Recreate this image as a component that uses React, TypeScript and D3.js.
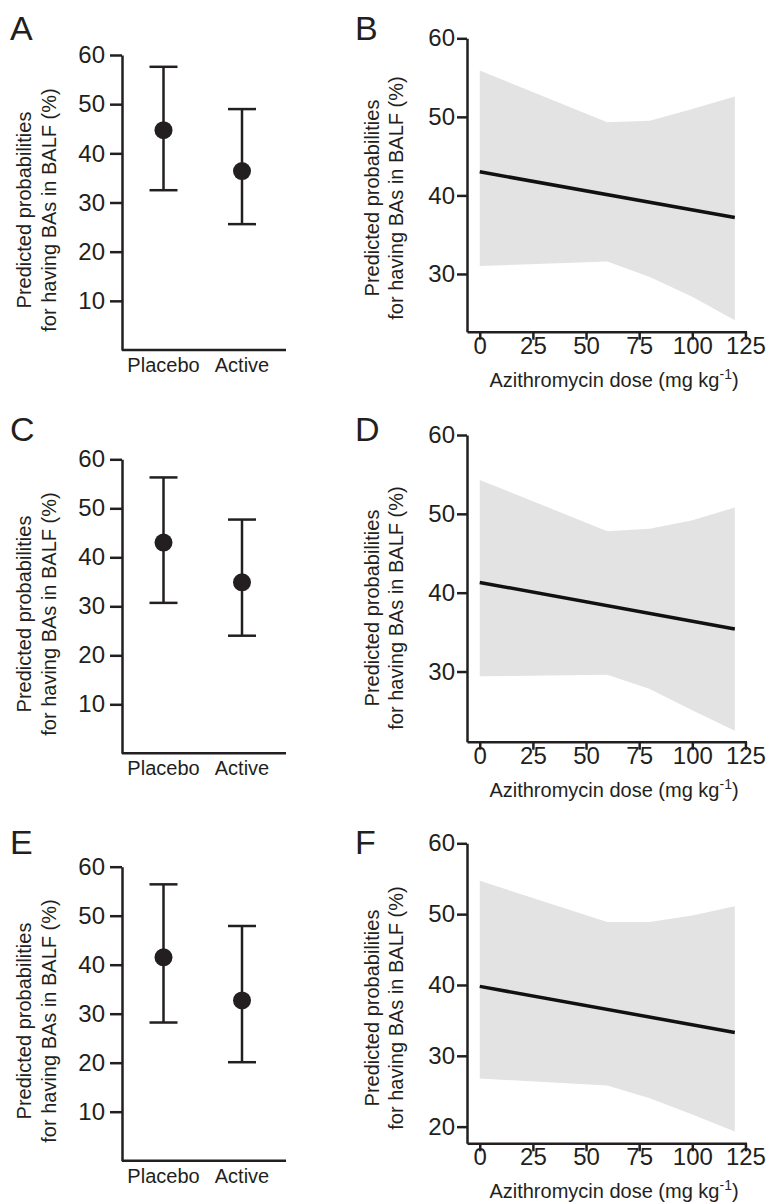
import React, { useEffect, useRef } from "react";
import * as d3 from "d3";

const groups = ["Placebo", "Active"];
const groupTicks = [10, 20, 30, 40, 50, 60];

// A, C, E: predicted probability with 95% CI, per group
const meanA = [44.7, 36.4];
const lowerA = [32.5, 25.6];
const upperA = [57.6, 49.0];

const meanC = [43.0, 34.9];
const lowerC = [30.7, 24.0];
const upperC = [56.3, 47.7];

const meanE = [41.5, 32.7];
const lowerE = [28.2, 20.1];
const upperE = [56.4, 47.9];

// B, D, F: fitted probability against azithromycin dose
const doseTicks = [0, 25, 50, 75, 100, 125];
const bandDose = [0, 60, 80, 100, 120];
const fitDose = [0, 120];

const upperB = [55.9, 49.3, 49.5, 51.0, 52.6];
const lowerB = [31.0, 31.6, 29.6, 27.1, 24.1];
const fitB = [43.0, 37.2];
const yTicksB = [30, 40, 50, 60];

const upperD = [54.3, 47.8, 48.1, 49.2, 50.8];
const lowerD = [29.4, 29.6, 27.8, 25.1, 22.5];
const fitD = [41.3, 35.4];
const yTicksD = [30, 40, 50, 60];

const upperF = [54.7, 48.9, 48.9, 49.8, 51.1];
const lowerF = [26.8, 25.8, 24.0, 21.7, 19.3];
const fitF = [39.8, 33.3];
const yTicksF = [20, 30, 40, 50, 60];

const INK = "#231f20";
const FONT = "'Liberation Sans', Arial, Helvetica, sans-serif";

const App = () => {
  const svgRef = useRef(null);

  useEffect(() => {
    const svg = d3.select(svgRef.current);
    svg.selectAll("*").remove();

    const styleAxis = (g) => {
      g.attr("font-size", null).attr("font-family", null);
      g.selectAll("path, line").attr("stroke", INK).attr("stroke-width", 2.5);
      g.selectAll("text").attr("fill", INK).style("font-size", "24px");
    };

    const yTitle = (cx1, cx2, cy) => {
      const lines = ["Predicted probabilities", "for having BAs in BALF (%)"];
      [cx1, cx2].forEach((cx, i) => {
        svg
          .append("text")
          .attr("transform", `translate(${cx},${cy}) rotate(-90)`)
          .attr("text-anchor", "middle")
          .style("font-size", "20px")
          .attr("fill", INK)
          .text(lines[i]);
      });
    };

    const letter = (txt, x, y) => {
      svg
        .append("text")
        .attr("x", x)
        .attr("y", y)
        .style("font-size", "34px")
        .attr("fill", INK)
        .text(txt);
    };

    // group panels (A, C, E)
    const drawGroups = (p, mean, lower, upper) => {
      const y = d3.scaleLinear().domain([0, 60]).range([p.bottom, p.top]);
      const x = d3.scalePoint().domain(groups).range([163.5, 242]);

      const yAxis = svg
        .append("g")
        .attr("transform", `translate(122,0)`)
        .call(d3.axisLeft(y).tickValues(groupTicks).tickSize(12).tickSizeOuter(0).tickPadding(5));
      styleAxis(yAxis);

      svg
        .append("line")
        .attr("x1", 122)
        .attr("x2", 286)
        .attr("y1", p.bottom)
        .attr("y2", p.bottom)
        .attr("stroke", INK)
        .attr("stroke-width", 2.5);

      const g = svg.append("g");
      groups.forEach((grp, i) => {
        const cx = x(grp);
        g.append("line")
          .attr("x1", cx).attr("x2", cx)
          .attr("y1", y(lower[i])).attr("y2", y(upper[i]))
          .attr("stroke", INK).attr("stroke-width", 2.5);
        [lower[i], upper[i]].forEach((v) => {
          g.append("line")
            .attr("x1", cx - 14).attr("x2", cx + 14)
            .attr("y1", y(v)).attr("y2", y(v))
            .attr("stroke", INK).attr("stroke-width", 2.5);
        });
        g.append("circle").attr("cx", cx).attr("cy", y(mean[i])).attr("r", 9).attr("fill", INK);
        g.append("text")
          .attr("x", cx)
          .attr("y", p.bottom + 22)
          .attr("text-anchor", "middle")
          .style("font-size", "20px")
          .attr("fill", INK)
          .text(grp);
      });

      yTitle(31, 56, p.titleY);
      letter(p.letter, 10, p.letterY);
    };

    // dose panels (B, D, F)
    const drawDose = (p, upper, lower, fit, yTicks) => {
      const x = d3.scaleLinear().domain([-6, 125.5]).range([467, 746.5]);
      const y = d3.scaleLinear().domain([p.yMin, 60]).range([p.bottom, p.top]);

      const band = bandDose.map((d, i) => ({ d, lo: lower[i], hi: upper[i] }));
      svg
        .append("path")
        .datum(band)
        .attr("fill", "#e3e3e3")
        .attr(
          "d",
          d3.area().x((b) => x(b.d)).y0((b) => y(b.lo)).y1((b) => y(b.hi))
        );

      svg
        .append("path")
        .datum(fitDose.map((d, i) => [d, fit[i]]))
        .attr("fill", "none")
        .attr("stroke", "#111")
        .attr("stroke-width", 3.5)
        .attr("d", d3.line().x((v) => x(v[0])).y((v) => y(v[1])));

      const yAxis = svg
        .append("g")
        .attr("transform", `translate(467,0)`)
        .call(d3.axisLeft(y).tickValues(yTicks).tickSize(10).tickSizeOuter(0).tickPadding(2));
      styleAxis(yAxis);

      const xAxis = svg
        .append("g")
        .attr("transform", `translate(0,${p.bottom})`)
        .call(d3.axisBottom(x).tickValues(doseTicks).tickSize(8).tickSizeOuter(0).tickPadding(-3));
      styleAxis(xAxis);

      const t = svg
        .append("text")
        .attr("x", 614)
        .attr("y", p.bottom + 55)
        .attr("text-anchor", "middle")
        .style("font-size", "20px")
        .attr("fill", INK);
      t.append("tspan").text("Azithromycin dose (mg kg");
      t.append("tspan").attr("dy", -8).style("font-size", "14px").text("-1");
      t.append("tspan").attr("dy", 8).text(")");

      yTitle(379, 403, p.titleY);
      letter(p.letter, 355, p.letterY);
    };

    drawGroups({ letter: "A", top: 55, bottom: 350, titleY: 210, letterY: 40 }, meanA, lowerA, upperA);
    drawGroups({ letter: "C", top: 459.3, bottom: 753.3, titleY: 614, letterY: 441 }, meanC, lowerC, upperC);
    drawGroups({ letter: "E", top: 866.7, bottom: 1160.7, titleY: 1021, letterY: 854 }, meanE, lowerE, upperE);

    drawDose({ letter: "B", top: 38.3, bottom: 331.7, yMin: 22.65, titleY: 198, letterY: 40 }, upperB, lowerB, fitB, yTicksB);
    drawDose({ letter: "D", top: 435, bottom: 741.7, yMin: 21.1, titleY: 608, letterY: 441 }, upperD, lowerD, fitD, yTicksD);
    drawDose({ letter: "F", top: 843.3, bottom: 1143.3, yMin: 17.65, titleY: 1008, letterY: 854 }, upperF, lowerF, fitF, yTicksF);
  }, []);

  return (
    <svg
      ref={svgRef}
      width={769}
      height={1202}
      style={{ position: "absolute", left: 0, top: 0, background: "#fff", fontFamily: FONT }}
    />
  );
};

export default App;
